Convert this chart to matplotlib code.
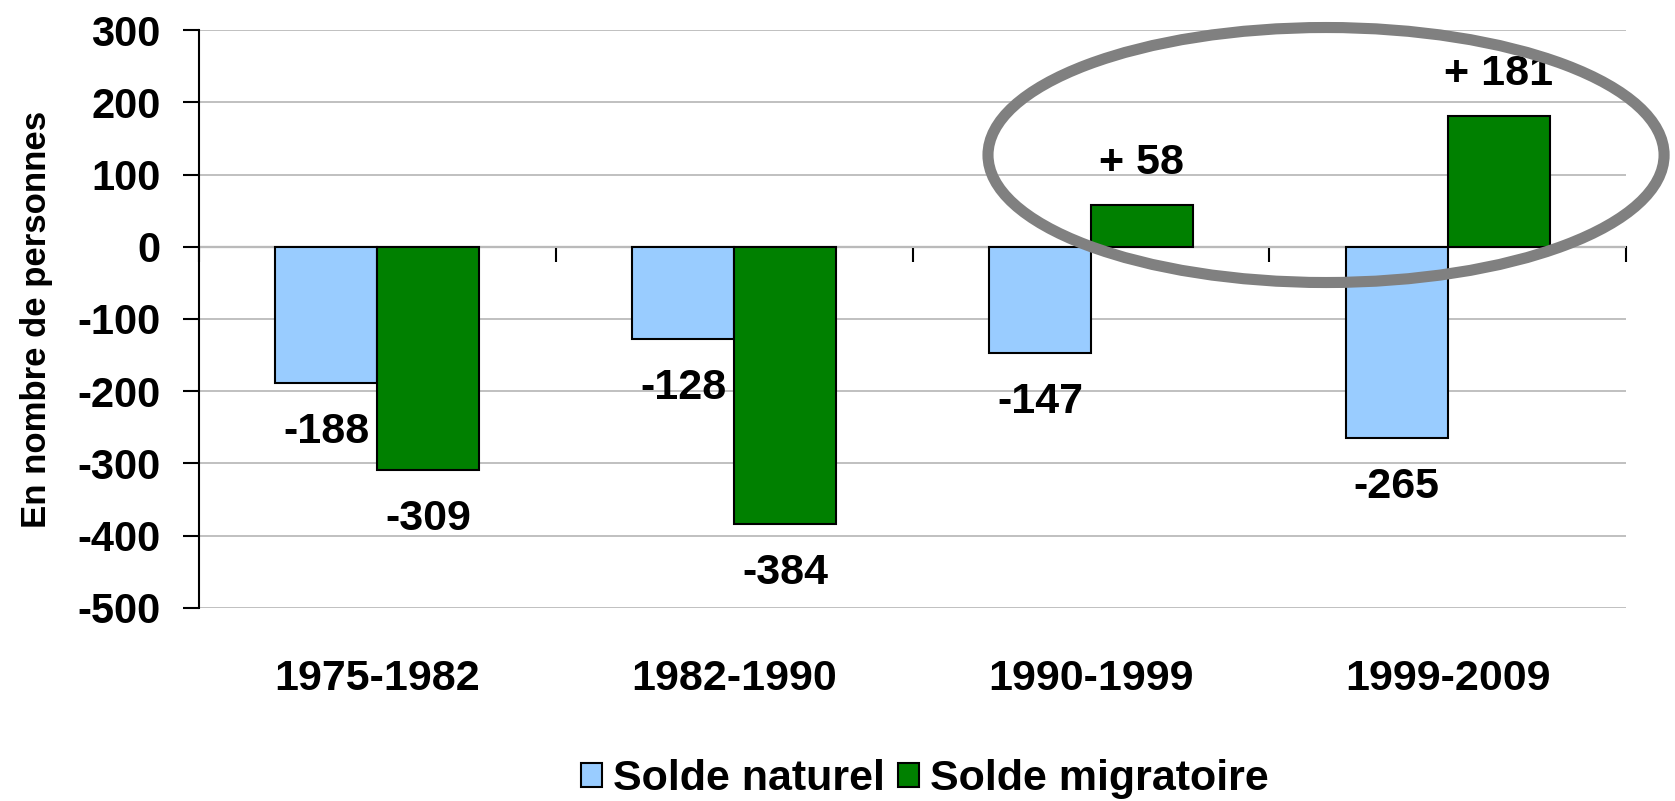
#!/usr/bin/env python3
"""Solde naturel / solde migratoire par période intercensitaire."""

import matplotlib.pyplot as plt
import numpy as np
from matplotlib.patches import Ellipse

# -----------------------------------------------------------------------------
# DATA
# -----------------------------------------------------------------------------
PERIODS = ["1975-1982", "1982-1990", "1990-1999", "1999-2009"]
SOLDE_NATUREL = [-188, -128, -147, -265]
SOLDE_MIGRATOIRE = [-309, -384, 58, 181]
SERIES_NAMES = ["Solde naturel", "Solde migratoire"]
Y_TICKS = [300, 200, 100, 0, -100, -200, -300, -400, -500]

# -----------------------------------------------------------------------------
# STYLE
# -----------------------------------------------------------------------------
BLUE = "#99CCFF"
GREEN = "#008000"
GRID = "#C0C0C0"
RING = "#808080"
TICK_SIZE = 30
LABEL_SIZE = 31

plt.rcParams["font.family"] = ["Liberation Sans", "DejaVu Sans"]
plt.rcParams["font.weight"] = "bold"


def fmt(v):
    return f"+ {v}" if v > 0 else f"{v}"


def main():
    fig = plt.figure(figsize=(16.75, 8.01), dpi=100)
    ax = fig.add_axes([0.1188, 0.2410, 0.8520, 0.7215])

    x = np.arange(len(PERIODS))
    width = 1 / 3.5

    bars_n = ax.bar(x - width / 2, SOLDE_NATUREL, width, color=BLUE,
                    edgecolor="black", linewidth=1.5, label=SERIES_NAMES[0])
    bars_m = ax.bar(x + width / 2, SOLDE_MIGRATOIRE, width, color=GREEN,
                    edgecolor="black", linewidth=1.5, label=SERIES_NAMES[1])

    # data labels outside the bar ends
    for bars, vals in ((bars_n, SOLDE_NATUREL), (bars_m, SOLDE_MIGRATOIRE)):
        for b, v in zip(bars, vals):
            cx = b.get_x() + b.get_width() / 2
            if v >= 0:
                ax.annotate(fmt(v), (cx, v), xytext=(0, 22),
                            textcoords="offset points", ha="center",
                            va="baseline", fontsize=LABEL_SIZE,
                            fontweight="bold")
            else:
                ax.annotate(fmt(v), (cx, v), xytext=(0, -21),
                            textcoords="offset points", ha="center",
                            va="top", fontsize=LABEL_SIZE, fontweight="bold")

    ymin, ymax = -500, 300
    ax.set_xlim(-0.5, len(PERIODS) - 0.5)
    ax.set_ylim(ymin, ymax)
    ax.set_yticks(Y_TICKS)
    ax.set_yticklabels([str(t) for t in Y_TICKS])
    ax.yaxis.grid(True, color=GRID, linewidth=1.4)
    ax.set_axisbelow(True)

    for side in ("top", "right", "bottom"):
        ax.spines[side].set_visible(False)
    ax.spines["left"].set_linewidth(1.5)

    ax.tick_params(axis="y", direction="out", length=11.5, width=1.5,
                   pad=16, labelsize=TICK_SIZE)
    ax.set_xticks(x)
    ax.set_xticklabels(PERIODS)
    ax.tick_params(axis="x", length=0, pad=37, labelsize=LABEL_SIZE)

    # category axis drawn at y = 0 with boundary ticks
    zero_pos = (0 - ymin) / (ymax - ymin)
    sec = ax.secondary_xaxis(zero_pos)
    sec.set_alignment("bottom")
    sec.set_xticks(np.arange(-0.5, len(PERIODS), 1.0))
    sec.tick_params(direction="out", length=10.5, width=1.5, labelbottom=False)
    sec.spines["bottom"].set_linewidth(1.5)

    ax.set_ylabel("En nombre de personnes", fontsize=25, fontweight="bold")
    ax.yaxis.set_label_coords(-0.102, 0.5)

    # highlight ring around the positive migration balances
    ring = Ellipse((2.659, 127), width=1.895, height=353, fill=False,
                   edgecolor=RING, linewidth=8, clip_on=False, zorder=5)
    ax.add_patch(ring)

    leg = fig.legend(handles=[bars_n, bars_m], labels=SERIES_NAMES,
                     loc="center", bbox_to_anchor=(0.552, 0.027), ncol=2,
                     frameon=False, fontsize=LABEL_SIZE, handlelength=0.5,
                     handleheight=0.5, handletextpad=0.25, columnspacing=0.3,
                     borderaxespad=0, borderpad=0)
    for t in leg.get_texts():
        t.set_fontweight("bold")

    fig.savefig("out.png", dpi=100)
    plt.close(fig)


if __name__ == "__main__":
    main()
